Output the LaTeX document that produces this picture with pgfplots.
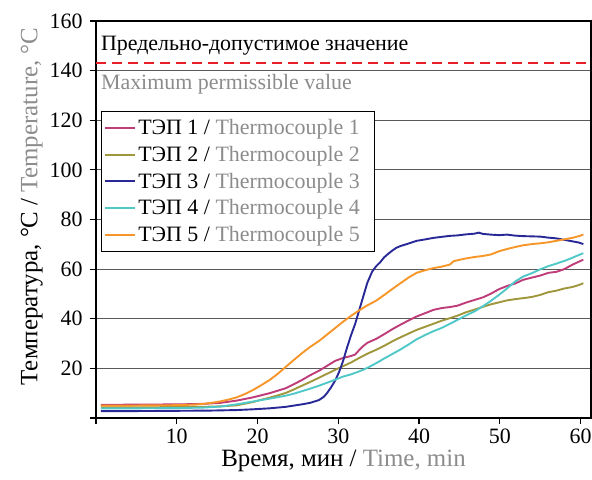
\documentclass[border=0pt]{standalone}
\usepackage{fontspec}
\setmainfont{Liberation Serif}
\usepackage{pgfplots}
\pgfplotsset{compat=1.18}
\definecolor{tc1}{RGB}{190,60,120}
\definecolor{tc2}{RGB}{160,150,60}
\definecolor{tc3}{RGB}{40,40,150}
\definecolor{tc4}{RGB}{80,200,200}
\definecolor{tc5}{RGB}{247,150,40}
\definecolor{limred}{RGB}{232,30,40}
\definecolor{engl}{RGB}{140,140,140}

\begin{document}
\begin{tikzpicture}[font=\fontsize{22}{26}\selectfont]
\begin{axis}[
  scale only axis, width=495bp, height=397bp,
  xmin=0, xmax=61.3, ymin=0, ymax=160,
  xtick={0,10,20,30,40,50,60}, xticklabels={,10,20,30,40,50,60},
  ytick={0,20,40,60,80,100,120,140,160},
  yticklabels={,20,40,60,80,100,120,140,160},
  tick align=outside, xtick pos=bottom, ytick pos=left,
  major tick length=6bp,
  ymajorgrids, major grid style={line width=1.2bp, color=black!65},
  axis line style={line width=1.6bp},
  tick style={line width=1.2bp, black},
  yticklabel style={xshift=-4bp},
  xticklabel style={yshift=-1bp},
  /pgf/number format/assume math mode=true,
  xlabel={Время, мин / \textcolor{engl}{Time, min}},
  ylabel={Температура, °C / \textcolor{engl}{Temperature, °C}},
  label style={font=\fontsize{25}{29}\selectfont},
  ylabel style={at={(ticklabel cs:0.533)}},
  legend style={at={(rel axis cs:0.01,0.773)}, anchor=north west,
    draw=black, line width=0.8bp, fill=white, row sep=6bp,
    inner xsep=3bp, inner ysep=6bp,
    font=\fontsize{22}{26}\selectfont},
  legend cell align=left,
  legend image code/.code={\draw[#1, line width=2bp] (0bp,0bp) -- (30bp,0bp);},
  every axis plot/.append style={line width=1.9bp},
]
% ТЭП 1
\addplot[tc1] coordinates {
(0.6,5.3) (5.2,5.4) (10.3,5.5) (13.3,5.7) (15.4,6.1) (17.4,7.0) (19.4,8.3)
(20.4,9.1) (21.5,10.0) (22.5,11.0) (23.5,12.0) (24.5,13.6) (25.5,15.3)
(26.5,17.2) (27.6,19.0) (28.6,21.0) (29.6,23.0) (30.6,24.2) (31.6,25.0)
(32.1,25.6) (32.6,27.4) (33.1,29.0) (33.6,30.3) (34.7,31.9) (35.7,33.8)
(36.7,35.8) (37.7,37.6) (38.7,39.3) (39.7,40.9) (40.8,42.3) (41.8,43.6)
(42.8,44.3) (43.8,44.7) (44.8,45.3) (45.8,46.5) (46.9,47.6) (47.9,48.6)
(48.9,50.1) (49.9,51.9) (50.9,53.2) (51.9,54.2) (52.9,55.7) (54.0,56.6)
(55.0,57.4) (56.0,58.5) (57.0,58.9) (58.0,60.0) (59.0,61.8) (59.8,63.0)
(60.35,63.8)};
% ТЭП 2
\addplot[tc2] coordinates {
(0.6,4.3) (5.2,4.3) (10.3,4.4) (13.3,4.5) (15.4,4.7) (17.4,5.1) (19.4,6.4)
(20.4,7.3) (21.5,8.2) (22.5,9.1) (23.5,10.1) (24.5,11.5) (25.5,13.0)
(26.5,14.5) (27.6,16.2) (28.6,17.8) (29.6,19.4) (30.6,20.9) (31.6,22.4)
(32.6,24.2) (33.6,25.9) (34.7,27.5) (35.7,29.1) (36.7,30.9) (37.7,32.5)
(38.7,34.0) (39.7,35.5) (40.8,36.8) (41.8,38.0) (42.8,39.2) (43.8,40.2)
(44.8,41.3) (45.8,42.6) (46.9,43.7) (47.9,44.8) (48.9,45.8) (49.9,46.6)
(50.9,47.4) (51.9,47.9) (52.9,48.3) (54.0,48.8) (55.0,49.6) (56.0,50.7)
(57.0,51.3) (58.0,52.2) (59.0,52.8) (59.8,53.6) (60.35,54.3)};
% ТЭП 3
\addplot[tc3] coordinates {
(0.6,2.8) (5.2,2.8) (10.3,2.9) (14.3,3.0) (17.4,3.2) (19.4,3.5) (21.5,3.9)
(23.5,4.5) (24.5,5.0) (25.5,5.5) (26.5,6.1) (27.6,7.2) (28.2,8.5)
(28.6,10.0) (29.1,12.3) (29.6,15.0) (30.1,18.5) (30.6,23.0) (31.1,28.5)
(31.6,33.5) (32.1,38.0) (32.6,43.5) (33.1,49.0) (33.6,54.5) (34.2,59.0)
(34.7,61.2) (35.2,62.8) (35.7,64.8) (36.2,66.2) (36.7,67.5) (37.2,68.6)
(37.7,69.3) (38.7,70.3) (39.7,71.4) (40.8,72.0) (41.8,72.6) (42.8,73.0)
(43.8,73.4) (44.8,73.6) (45.8,74.0) (46.9,74.3) (47.4,74.7) (47.9,74.2)
(48.9,73.9) (49.9,73.7) (50.9,73.9) (51.9,73.5) (52.9,73.3) (54.0,73.2)
(55.0,73.1) (56.0,72.7) (57.0,72.4) (58.0,71.8) (59.0,71.2) (59.8,70.7)
(60.35,70.1)};
% ТЭП 4
\addplot[tc4] coordinates {
(0.6,3.9) (5.2,3.9) (10.3,4.0) (13.3,4.2) (15.4,4.6) (17.4,5.5) (19.4,6.6)
(20.4,7.2) (21.5,7.8) (22.5,8.4) (23.5,9.0) (24.5,9.8) (25.5,10.8)
(26.5,11.8) (27.6,13.0) (28.6,14.2) (29.6,15.4) (30.6,16.7) (31.6,17.6)
(32.6,18.8) (33.6,20.2) (34.7,22.1) (35.7,24.0) (36.7,25.8) (37.7,27.6)
(38.7,29.6) (39.7,31.7) (40.8,33.5) (41.8,35.0) (42.8,36.3) (43.8,37.9)
(44.8,39.6) (45.8,41.3) (46.9,43.0) (47.9,45.0) (48.9,47.2) (49.9,49.6)
(50.9,52.2) (51.9,55.0) (52.9,57.0) (54.0,58.4) (55.0,59.9) (56.0,61.2)
(57.0,62.2) (58.0,63.3) (59.0,64.6) (59.8,65.7) (60.35,66.4)};
% ТЭП 5
\addplot[tc5] coordinates {
(0.6,5.0) (2.1,5.0) (4.2,5.0) (6.2,5.1) (8.2,5.1) (10.3,5.2) (11.3,5.3)
(12.3,5.4) (13.3,5.7) (14.3,6.1) (15.4,6.7) (16.4,7.4) (17.4,8.3)
(18.4,9.6) (19.4,11.2) (20.4,13.1) (21.5,15.3) (22.5,17.8) (23.5,20.6)
(24.5,23.4) (25.5,26.1) (26.5,28.6) (27.6,31.0) (28.6,33.6) (29.6,36.2)
(30.6,38.8) (31.6,41.2) (32.6,43.4) (33.6,45.4) (34.7,47.3) (35.7,49.6)
(36.7,52.0) (37.7,54.3) (38.7,56.6) (39.7,58.5) (40.8,59.6) (41.8,60.4)
(42.8,61.0) (43.8,61.8) (44.3,63.2) (44.8,63.6) (45.8,64.3) (46.9,64.9)
(47.9,65.3) (48.9,65.9) (49.9,67.2) (50.9,68.1) (51.9,68.9) (52.9,69.6)
(54.0,70.1) (55.0,70.4) (56.0,70.8) (57.0,71.4) (58.0,72.0) (59.0,72.6)
(59.8,73.3) (60.35,73.9)};
% limit
\addplot[limred, line width=2.2bp, dash pattern=on 10bp off 6bp, forget plot]
  coordinates {(0,143) (61.3,143)};
\legend{ТЭП 1 / \textcolor{engl}{Thermocouple 1}\hspace*{10bp}\null,
        ТЭП 2 / \textcolor{engl}{Thermocouple 2}\hspace*{10bp}\null,
        ТЭП 3 / \textcolor{engl}{Thermocouple 3}\hspace*{10bp}\null,
        ТЭП 4 / \textcolor{engl}{Thermocouple 4}\hspace*{10bp}\null,
        ТЭП 5 / \textcolor{engl}{Thermocouple 5}\hspace*{10bp}\null}
\node[anchor=west, inner sep=0pt] at (axis cs:0.6,150) {Предельно-допустимое значение};
\node[anchor=west, inner sep=0pt, text=engl] at (axis cs:0.6,134.7) {Maximum permissible value};
\node[xshift=-18bp, yshift=-19bp] at (rel axis cs:0,0) {0};
\end{axis}
\pgfresetboundingbox
\path[use as bounding box] (current axis.south west) ++(-96bp,-62bp) rectangle ++(592bp,480bp);
\end{tikzpicture}
\end{document}
